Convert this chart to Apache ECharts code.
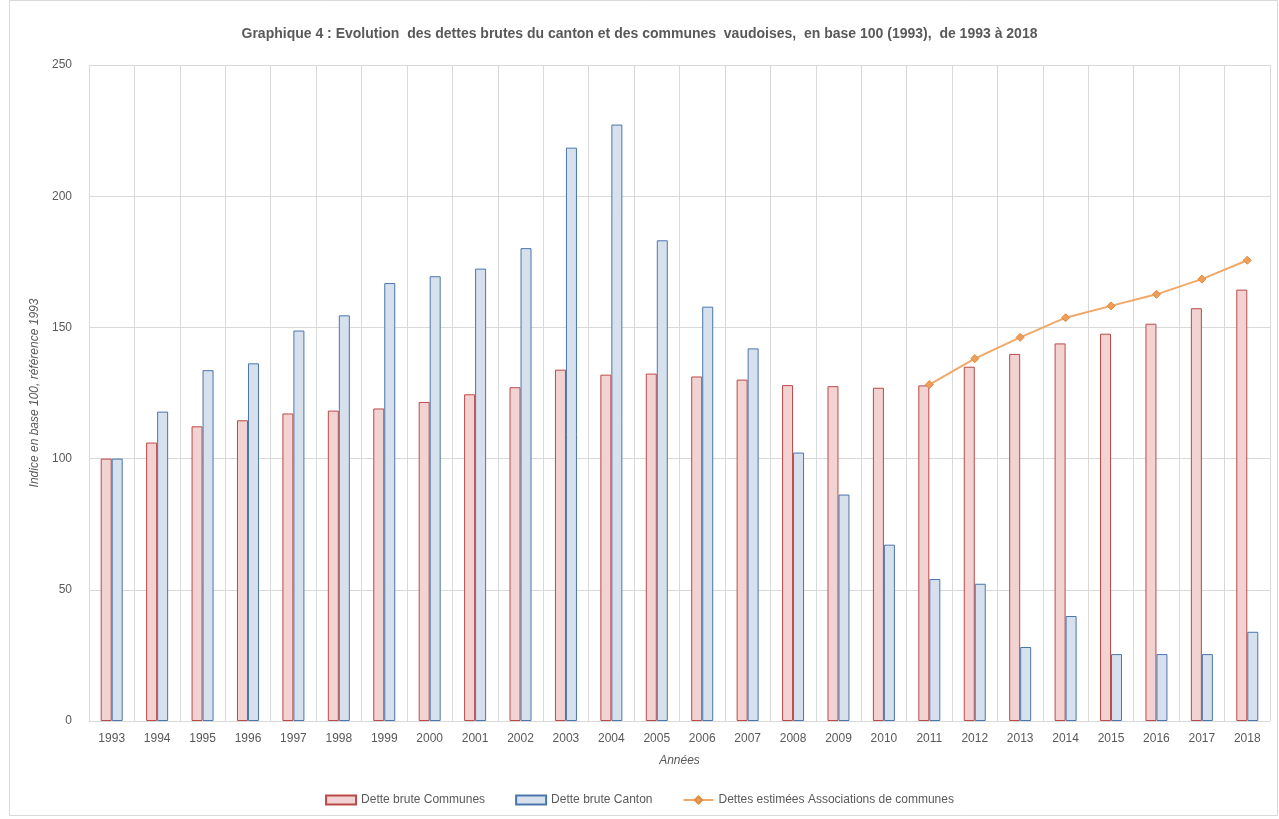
<!DOCTYPE html>
<html>
<head>
<meta charset="utf-8">
<script src="https://cdn.jsdelivr.net/npm/echarts@6/dist/echarts.min.js"></script>
<style>
  html, body { margin: 0; padding: 0; background: #fff; }
  #chart { width: 1279px; height: 819px; }
</style>
</head>
<body>
<div id="chart"></div>
<script>
const years = ['1993', '1994', '1995', '1996', '1997', '1998', '1999', '2000', '2001', '2002', '2003', '2004', '2005',
  '2006', '2007', '2008', '2009', '2010', '2011', '2012', '2013', '2014', '2015', '2016', '2017', '2018'];

const communes = [100, 106.1, 112.3, 114.6, 117.2, 118.3, 119.1, 121.6, 124.5, 127.2, 133.9, 132.0, 132.4,
  131.3, 130.1, 128.0, 127.6, 127.0, 127.9, 135.0, 139.9, 143.9, 147.6, 151.4, 157.3, 164.4];

const canton = [100, 117.9, 133.7, 136.3, 148.8, 154.6, 166.9, 169.5, 172.4, 180.2, 218.5, 227.3, 183.2,
  157.9, 142.0, 102.3, 86.3, 67.2, 54.1, 52.3, 28.2, 40.0, 25.5, 25.5, 25.5, 34.0];

// pas de valeurs avant 2011
const associations = [null, null, null, null, null, null, null, null, null, null, null, null, null,
  null, null, null, null, null, 128.2, 138.1, 146.2, 153.7, 158.2, 162.6, 168.4, 175.6];

const yTicks = [0, 50, 100, 150, 200, 250];

const font = 'Arial, "Liberation Sans", sans-serif';
const grey = '#595959';

const chart = echarts.init(document.getElementById('chart'));
chart.setOption({
  animation: false,
  textStyle: { fontFamily: font },
  title: {
    text: 'Graphique 4 : Evolution  des dettes brutes du canton et des communes  vaudoises,  en base 100 (1993),  de 1993 à 2018',
    left: 'center',
    top: 22,
    textStyle: { fontSize: 14, fontWeight: 'bold', color: grey, fontFamily: font },
  },
  graphic: [
    {
      type: 'rect',
      shape: { x: 9.5, y: 0.5, width: 1268, height: 815 },
      style: { fill: 'none', stroke: '#d9d9d9', lineWidth: 1 },
      silent: true,
    },
  ],
  legend: {
    bottom: 8,
    left: 'center',
    itemGap: 30,
    itemWidth: 30,
    itemHeight: 9,
    textStyle: { fontSize: 12, color: grey },
    data: [
      { name: 'Dette brute Communes', icon: 'rect' },
      { name: 'Dette brute Canton', icon: 'rect' },
      { name: 'Dettes estimées Associations de communes' },
    ],
  },
  grid: { left: 89, right: 9, top: 65, bottom: 98 },
  xAxis: {
    type: 'category',
    data: years,
    name: 'Années',
    nameLocation: 'middle',
    nameGap: 34,
    nameTextStyle: { fontStyle: 'italic', fontSize: 12, color: grey },
    axisLine: { lineStyle: { color: '#d9d9d9' } },
    axisTick: { show: false },
    axisLabel: { color: grey, fontSize: 12, margin: 12 },
    splitLine: { show: true, interval: 0, lineStyle: { color: '#d9d9d9' } },
  },
  yAxis: {
    type: 'value',
    min: yTicks[0],
    max: yTicks[yTicks.length - 1],
    interval: 50,
    name: 'Indice en base 100, référence 1993',
    nameLocation: 'middle',
    nameGap: 46,
    nameTextStyle: { fontStyle: 'italic', fontSize: 12, color: grey },
    axisLine: { show: false },
    axisTick: { show: false },
    axisLabel: { color: grey, fontSize: 12, margin: 17 },
    splitLine: { lineStyle: { color: '#d9d9d9' } },
  },
  series: [
    {
      name: 'Dette brute Communes',
      type: 'bar',
      data: communes,
      barWidth: 11,
      barGap: '0%',
      itemStyle: { color: '#f2d3d2', borderColor: '#b94a48', borderWidth: 1 },
    },
    {
      name: 'Dette brute Canton',
      type: 'bar',
      data: canton,
      barWidth: 11,
      itemStyle: { color: '#d7e1ee', borderColor: '#4a76ab', borderWidth: 1 },
    },
    {
      name: 'Dettes estimées Associations de communes',
      type: 'line',
      data: associations,
      symbol: 'diamond',
      symbolSize: 8,
      lineStyle: { color: '#f0a868', width: 2 },
      itemStyle: { color: '#ee9d5a', borderColor: '#e08a3c', borderWidth: 1 },
    },
  ],
});
</script>
</body>
</html>
